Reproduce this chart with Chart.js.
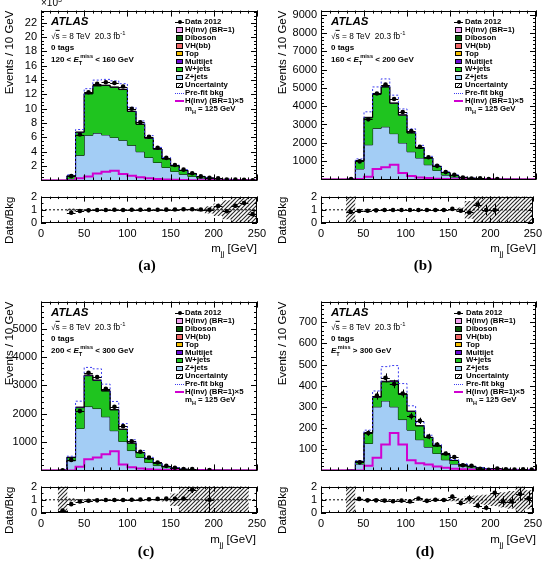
<!DOCTYPE html>
<html>
<head>
<meta charset="utf-8">
<script src="https://cdn.jsdelivr.net/npm/chart.js@4.4.1/dist/chart.umd.min.js"></script>
<style>
body { margin: 0; background: #fff; }
#wrap { position: relative; width: 546px; height: 565px; overflow: hidden; font-family: "Liberation Sans", Arial, sans-serif; color: #000; }
canvas { position: absolute; }
.t { position: absolute; white-space: nowrap; line-height: 1; }
.t sub, .t sup { font-size: 0.7em; line-height: 0; }
.sym { position: absolute; box-sizing: border-box; }
</style>
</head>
<body>
<div id="wrap"></div>
<script>
// bins of 10 GeV, 0..250
const edges = [0,10,20,30,40,50,60,70,80,90,100,110,120,130,140,150,160,170,180,190,200,210,220,230,240,250];

// (a) 120 < ETmiss < 160 GeV, values in units of 10^3
const zA   = [0,0,0,0.20,3.50,6.30,6.60,6.35,6.00,5.60,4.90,4.00,3.20,2.50,1.80,1.25,0.85,0.55,0.33,0.20,0.12,0.08,0.05,0.03,0.02];
const wA   = [0,0,0,0.42,3.20,5.77,6.58,6.89,6.99,7.08,4.72,3.82,2.70,1.86,1.20,0.78,0.55,0.37,0.20,0.14,0.10,0.06,0.04,0.03,0.02];
const mjA  = [0,0,0,0.02,0.05,0.06,0.06,0.05,0.05,0.04,0.04,0.03,0.02,0.02,0.01,0.01,0,0,0,0,0,0,0,0,0];
const topA = [0,0,0,0.02,0.08,0.12,0.14,0.14,0.14,0.13,0.11,0.09,0.07,0.05,0.04,0.03,0.02,0.02,0.01,0.01,0,0,0,0,0];
const vhA  = [0,0,0,0,0.01,0.02,0.03,0.04,0.05,0.04,0.02,0.01,0.01,0,0,0,0,0,0,0,0,0,0,0,0];
const vvA  = [0,0,0,0.08,0.12,0.15,0.17,0.19,0.21,0.19,0.13,0.09,0.06,0.04,0.03,0.02,0.02,0.01,0.01,0,0,0,0,0,0];
const hiA  = [0,0,0,0.01,0.04,0.08,0.12,0.14,0.16,0.12,0.08,0.06,0.04,0.03,0.02,0.01,0.01,0,0,0,0,0,0,0,0];
const dataA   = [null,null,null,0.59,6.40,12.3,13.5,13.7,13.6,13.1,10.0,8.1,6.1,4.55,3.15,2.15,1.5,0.99,0.56,0.35,0.28,0.125,0.12,0.09,0.027];
const prefitA = [0,0,0,0.78,7.10,12.8,14.0,14.1,13.9,13.5,10.2,8.3,6.25,4.6,3.2,2.15,1.5,0.98,0.57,0.36,0.23,0.15,0.09,0.06,0.04];
const sigA    = [0,0,0,0,0.30,0.55,0.95,1.20,1.35,0.90,0.65,0.45,0.30,0.20,0.12,0.08,0.05,0.03,0.02,0.01,0,0,0,0,0];
const bandA   = [0,0,0,0.08,0.03,0.02,0.02,0.02,0.02,0.02,0.02,0.02,0.02,0.03,0.03,0.04,0.05,0.06,0.08,0.25,0.45,0.7,0.9,0.9,0.9];
const ratioA    = [null,null,null,0.78,0.91,0.96,0.98,0.99,1.0,0.99,1.0,1.0,1.0,1.0,1.01,1.02,1.04,1.04,1.02,1.0,1.29,0.89,1.31,1.51,0.67];
const ratioErrA = [0,0,0,0.03,0.01,0.01,0.01,0.01,0.01,0.01,0.01,0.01,0.01,0.02,0.02,0.02,0.03,0.04,0.05,0.07,0.1,0.12,0.15,0.18,0.2];

// (b) 160 < ETmiss < 200 GeV
const zB   = [0,0,0,10,570,1890,2790,2870,2500,1990,1510,1170,800,490,235,130,65,35,20,12,7,5,3,2,1];
const wB   = [0,0,0,14,444,1472,1873,2172,1655,1520,1027,543,363,220,144,92,43,27,18,12,8,5,3,2,2];
const mjB  = [0,0,0,2,15,30,30,25,20,15,10,8,5,3,2,1,1,0,0,0,0,0,0,0,0];
const topB = [0,0,0,1,20,50,70,80,100,80,50,35,25,15,10,6,3,2,1,1,0,0,0,0,0];
const vhB  = [0,0,0,0,3,8,12,18,20,15,8,4,2,1,0,0,0,0,0,0,0,0,0,0,0];
const vvB  = [0,0,0,3,20,45,60,70,75,60,40,25,15,10,6,4,2,1,1,0,0,0,0,0,0];
const hiB  = [0,0,0,0,8,25,45,55,60,40,25,15,10,6,3,2,1,0,0,0,0,0,0,0,0];
const dataB   = [null,null,null,25,983,3280,4690,5180,4390,3680,2640,1780,1210,740,400,251,107,52,56,24,15,null,null,null,null];
const prefitB = [0,0,0,32,1120,3690,5050,5490,4600,3850,2760,1860,1260,770,415,245,120,68,42,26,16,10,6,4,3];
const sigB    = [0,0,0,0,20,150,570,660,800,350,180,110,70,40,25,15,8,5,3,2,1,0,0,0,0];
const bandB   = [0,0,0,1,0.03,0.02,0.02,0.02,0.02,0.02,0.02,0.02,0.02,0.03,0.03,0.04,0.15,0.65,1,1,1,1,1,1,1];
const ratioB    = [null,null,null,0.84,0.91,0.93,0.96,0.98,0.99,0.99,0.99,0.99,0.99,0.99,0.99,1.07,0.93,0.80,1.40,0.98,0.98,null,null,null,null];
const ratioErrB = [0,0,0,0.1,0.02,0.01,0.01,0.01,0.01,0.01,0.01,0.01,0.02,0.02,0.03,0.04,0.06,0.1,0.25,0.4,0.45,0,0,0,0];

// (c) 200 < ETmiss < 300 GeV
const zC   = [0,0,5,340,1480,2250,2180,1890,1400,1020,700,455,280,170,95,55,28,17,10,7,4,3,2,1,0];
const wC   = [0,0,8,115,732,1087,988,907,733,425,259,169,131,80,43,28,13,9,7,5,4,3,2,2,0];
const mjC  = [0,0,1,10,20,25,20,15,10,8,5,3,2,1,1,0,0,0,0,0,0,0,0,0,0];
const topC = [0,0,0,5,25,40,45,45,50,40,25,15,10,6,4,2,1,1,0,0,0,0,0,0,0];
const vhC  = [0,0,0,0,3,8,12,18,22,12,6,3,2,1,0,0,0,0,0,0,0,0,0,0,0];
const vvC  = [0,0,1,8,25,40,50,55,60,45,30,18,12,7,4,3,2,1,1,0,0,0,0,0,0];
const hiC  = [0,0,0,2,15,40,55,70,80,40,20,12,8,5,3,2,1,0,0,0,0,0,0,0,0];
const dataC   = [null,null,3,370,2090,3440,3290,2880,2240,1560,1030,660,450,280,160,96,48,49,null,12,null,null,null,null,null];
const prefitC = [0,0,16,500,2440,3630,3580,3040,2430,1650,1080,700,460,280,155,93,47,29,19,12,8,6,4,3,0];
const sigC    = [0,0,0,0,130,390,455,565,675,205,110,65,40,25,15,10,6,4,2,1,0,0,0,0,0];
const bandC   = [0,0,1,0.1,0.03,0.02,0.02,0.02,0.02,0.02,0.02,0.02,0.03,0.04,0.1,0.45,1,1,1,1,1,1,1,1,0];
const ratioC    = [null,null,0.18,0.67,0.87,0.93,0.96,0.98,0.98,0.98,1.0,1.02,1.04,1.07,1.09,1.07,1.09,1.76,null,1.0,null,null,null,null,null];
const ratioErrC = [0,0,0.12,0.04,0.02,0.02,0.02,0.02,0.02,0.02,0.03,0.03,0.04,0.05,0.06,0.08,0.12,0.25,0,1.2,0,0,0,0,0];

// (d) ETmiss > 300 GeV
const zD   = [0,0,0,1,30,127,300,328,300,240,190,145,110,80,50,30,18,12,8,5,4,3,3,2,2];
const wD   = [0,0,0,1,12,50,45,90,120,120,88,65,45,35,24,17,10,7,4,3,2,2,1,1,1];
const mjD  = [0,0,0,0,1,2,3,3,3,2,2,1,1,1,1,0,0,0,0,0,0,0,0,0,0];
const topD = [0,0,0,0,1,3,6,8,8,6,4,3,2,2,1,1,1,0,0,0,0,0,0,0,0];
const vhD  = [0,0,0,0,0,1,2,3,3,2,1,1,0,0,0,0,0,0,0,0,0,0,0,0,0];
const vvD  = [0,0,0,0,1,3,8,30,28,20,10,5,3,2,1,1,0,0,0,0,0,0,0,0,0];
const hiD  = [0,0,0,0,0,0,7,20,28,15,5,2,2,1,1,1,1,1,0,0,0,0,0,0,0];
const dataD    = [null,null,null,null,38,176,353,437,408,363,256,234,160,122,80,63,24,22,7,3,9,5,4,5,4];
const dataErrD = [0,0,0,0,6,13,19,21,20,19,16,15,13,11,9,8,5,5,3,2,3,2,2,2,2];
const prefitD  = [0,0,0,2,46,190,375,490,495,410,305,226,166,124,80,51,31,21,13,9,7,6,5,4,4];
const sigD     = [0,0,0,0,0,22,60,122,177,122,48,34,28,19,12,8,5,3,2,1,1,0,0,0,0];
const bandD    = [0,0,0,1,0.05,0.04,0.04,0.04,0.04,0.04,0.04,0.04,0.05,0.05,0.06,0.08,0.1,0.25,0.3,0.35,0.45,0.55,0.65,1,0.7];
const ratioD    = [null,null,null,null,1.07,0.96,0.96,0.94,0.89,0.94,0.87,1.1,0.92,1.0,0.98,1.24,0.75,1.12,0.56,0.4,1.53,0.87,0.87,1.44,1.12];
const ratioErrD = [0,0,0,0,0.15,0.07,0.05,0.05,0.05,0.05,0.06,0.07,0.08,0.09,0.11,0.15,0.15,0.25,0.2,0.2,0.4,0.4,0.45,0.55,0.5];

// axis tick labels
const yLabelsA = [2,4,6,8,10,12,14,16,18,20,22];
const yLabelsB = [1000,2000,3000,4000,5000,6000,7000,8000,9000];
const yLabelsC = [1000,2000,3000,4000,5000];
const yLabelsD = [100,200,300,400,500,600,700];
const ratioLabels = [0,1,2];
const xLabels = [0,50,100,150,200,250];

const cutLabels = [
  '120 &lt; <i>E</i><sub>T</sub><sup style="margin-left:-0.35em">miss</sup> &lt; 160 GeV',
  '160 &lt; <i>E</i><sub>T</sub><sup style="margin-left:-0.35em">miss</sup> &lt; 200 GeV',
  '200 &lt; <i>E</i><sub>T</sub><sup style="margin-left:-0.35em">miss</sup> &lt; 300 GeV',
  '<i>E</i><sub>T</sub><sup style="margin-left:-0.35em">miss</sup> &gt; 300 GeV'
];
const legendLabels = ['Data 2012', 'H(inv) (BR=1)', 'Diboson', 'VH(bb)', 'Top', 'Multijet', 'W+jets', 'Z+jets',
  'Uncertainty', 'Pre-fit bkg', 'H(inv) (BR=1)×5', 'm<sub>H</sub> = 125 GeV'];

// colours, bottom of stack first: Z+jets, W+jets, Multijet, Top, VH(bb), Diboson, H(inv)
const stackColors = ['#a3cdf5', '#1fc41f', '#6a0ad6', '#f7c000', '#f26868', '#0b5d0b', '#f5a2f0'];
const prefitColor = '#3c3cf0';
const sigColor = '#d000d0';

Chart.defaults.font.family = "'Liberation Sans', Arial, sans-serif";
Chart.defaults.color = '#000';
Chart.defaults.animation = false;
Chart.defaults.plugins.legend.display = false;
Chart.defaults.plugins.tooltip.enabled = false;

const wrap = document.getElementById('wrap');
const centers = edges.slice(0, -1).map(e => e + 5);

function makeHatch() {
  const c = document.createElement('canvas');
  c.width = 4; c.height = 4;
  const g = c.getContext('2d');
  g.strokeStyle = '#2a2a2a';
  g.lineWidth = 1.1;
  g.beginPath();
  g.moveTo(-1, 1); g.lineTo(1, -1);
  g.moveTo(0, 4); g.lineTo(4, 0);
  g.moveTo(3, 5); g.lineTo(5, 3);
  g.stroke();
  return g.createPattern(c, 'repeat');
}
const hatch = makeHatch();

function histPts(vals) {
  const pts = vals.map((v, i) => ({ x: edges[i], y: v }));
  pts.push({ x: edges[vals.length], y: vals[vals.length - 1] });
  return pts;
}

// frame with inward major/minor ticks on all four sides (ROOT style)
const framePlugin = {
  id: 'frame',
  afterDraw(chart, args, o) {
    const { ctx, chartArea: a, scales: { x, y } } = chart;
    ctx.save();
    ctx.strokeStyle = '#000';
    ctx.lineWidth = 1;
    ctx.strokeRect(Math.round(a.left) + 0.5, Math.round(a.top) + 0.5, Math.round(a.right - a.left) - 1, Math.round(a.bottom - a.top) - 1);
    ctx.beginPath();
    const ticksOf = (step, max) => { const v = []; for (let k = 0; k * step <= max + 1e-9; k++) v.push(k * step); return v; };
    [[o.xMin, o.minLen], [o.xMaj, o.majLen]].forEach(([step, len]) => {
      ticksOf(step, x.max).forEach(v => {
        const px = Math.round(x.getPixelForValue(v)) + 0.5;
        ctx.moveTo(px, a.bottom); ctx.lineTo(px, a.bottom - len);
        ctx.moveTo(px, a.top); ctx.lineTo(px, a.top + len);
      });
    });
    [[o.yMin, o.minLen], [o.yMaj, o.majLen]].forEach(([step, len]) => {
      ticksOf(step, y.max).forEach(v => {
        const py = Math.round(y.getPixelForValue(v)) + 0.5;
        ctx.moveTo(a.left, py); ctx.lineTo(a.left + len, py);
        ctx.moveTo(a.right, py); ctx.lineTo(a.right - len, py);
      });
    });
    ctx.stroke();
    ctx.restore();
  }
};

// data markers: horizontal bin-width bar plus vertical error bar
const errPlugin = {
  id: 'errbars',
  afterDatasetsDraw(chart) {
    const { ctx, chartArea: a, scales: { x, y } } = chart;
    ctx.save();
    ctx.beginPath();
    ctx.rect(a.left, a.top, a.right - a.left, a.bottom - a.top);
    ctx.clip();
    ctx.strokeStyle = '#000';
    ctx.lineWidth = 1;
    chart.data.datasets.forEach(ds => {
      if (!ds.isData) return;
      ctx.beginPath();
      ds.data.forEach((pt, i) => {
        if (pt.y === null) return;
        const py = Math.round(y.getPixelForValue(pt.y)) + 0.5;
        const px = Math.round(x.getPixelForValue(pt.x)) + 0.5;
        ctx.moveTo(x.getPixelForValue(pt.x - 5), py);
        ctx.lineTo(x.getPixelForValue(pt.x + 5), py);
        const e = ds.errY ? ds.errY[i] : 0;
        if (e) {
          ctx.moveTo(px, y.getPixelForValue(pt.y - e));
          ctx.lineTo(px, y.getPixelForValue(pt.y + e));
        }
      });
      ctx.stroke();
    });
    ctx.restore();
  }
};
Chart.register(framePlugin, errPlugin);

function makeCanvas(left, top, w, h) {
  const c = document.createElement('canvas');
  c.width = w; c.height = h;
  c.style.left = left + 'px';
  c.style.top = top + 'px';
  c.style.width = w + 'px';
  c.style.height = h + 'px';
  wrap.appendChild(c);
  return c.getContext('2d');
}

const fixedTicks = vals => s => { s.ticks = vals.map(v => ({ value: v })); };

function mainChart(p) {
  const ctx = makeCanvas(p.left, p.top, 273, p.h);
  const comps = [p.z, p.w, p.mj, p.top, p.vh, p.vv, p.hi];
  let acc = centers.map(() => 0);
  const datasets = [];
  comps.forEach((c, k) => {
    acc = acc.map((s, i) => s + c[i]);
    datasets.push({
      type: 'line', data: histPts(acc), stepped: true, borderColor: '#000', borderWidth: 1,
      backgroundColor: stackColors[k], fill: k === 0 ? 'origin' : '-1', pointRadius: 0, order: 30 - k
    });
  });
  const total = acc;
  const bandPts = centers.map((x, i) => (p.band[i] > 0 && total[i] > 0)
    ? { x, y: [total[i] * (1 - Math.min(p.band[i], 1)), total[i] * (1 + p.band[i])] } : null).filter(Boolean);
  datasets.push({
    type: 'bar', data: bandPts, backgroundColor: hatch, borderWidth: 0,
    barPercentage: 1, categoryPercentage: 1, grouped: false, order: 12
  });
  datasets.push({
    type: 'line', data: histPts(p.prefit), stepped: true, borderColor: prefitColor, borderWidth: 1,
    borderDash: [2, 2], pointRadius: 0, fill: false, order: 5
  });
  datasets.push({
    type: 'line', data: histPts(p.sig), stepped: true, borderColor: sigColor, borderWidth: 2,
    pointRadius: 0, fill: false, order: 4
  });
  datasets.push({
    type: 'line', data: centers.map((x, i) => ({ x, y: p.data[i] })), showLine: false,
    pointRadius: 2.3, pointBackgroundColor: '#000', pointBorderWidth: 0,
    isData: true, errY: p.dataErr, order: 1
  });
  new Chart(ctx, {
    type: 'line',
    data: { datasets },
    options: {
      responsive: false,
      devicePixelRatio: 1,
      layout: { padding: { top: p.padTop, right: p.padRight, bottom: p.padBottom, left: 0 } },
      scales: {
        x: { type: 'linear', display: false, min: 0, max: 250, offset: false },
        y: {
          type: 'linear', min: 0, max: p.yMax,
          afterBuildTicks: fixedTicks(p.yLabels),
          afterFit: s => { s.width = p.yW; },
          grid: { display: false, drawTicks: false }, border: { display: false },
          ticks: { autoSkip: false, padding: 4, font: { size: 11 }, callback: v => String(v) },
          title: { display: true, text: 'Events / 10 GeV', align: 'end', font: { size: 11.5 }, padding: { top: 3, bottom: 0 } }
        }
      },
      plugins: { frame: { xMaj: 50, xMin: 10, yMaj: p.yStep, yMin: p.yMinor, majLen: 6, minLen: 3 } }
    }
  });
}

function ratioChart(p) {
  const ctx = makeCanvas(p.left, p.rTop, 273, 59);
  const bandPts = centers.map((x, i) => p.band[i] > 0
    ? { x, y: [Math.max(0, 1 - p.band[i]), Math.min(2, 1 + p.band[i])] } : null).filter(Boolean);
  new Chart(ctx, {
    type: 'line',
    data: {
      datasets: [
        { type: 'bar', data: bandPts, backgroundColor: hatch, borderWidth: 0,
          barPercentage: 1, categoryPercentage: 1, grouped: false, order: 10 },
        { type: 'line', data: [{ x: 0, y: 1 }, { x: 250, y: 1 }], borderColor: '#000', borderWidth: 1,
          borderDash: [2, 2], pointRadius: 0, fill: false, order: 5 },
        { type: 'line', data: centers.map((x, i) => ({ x, y: p.ratio[i] })), showLine: false,
          pointRadius: 2.3, pointBackgroundColor: '#000', pointBorderWidth: 0,
          isData: true, errY: p.ratioErr, order: 1 }
      ]
    },
    options: {
      responsive: false,
      devicePixelRatio: 1,
      layout: { padding: { top: 7, right: p.padRight, bottom: 0, left: 0 } },
      scales: {
        x: {
          type: 'linear', min: 0, max: 250, offset: false,
          afterBuildTicks: fixedTicks(xLabels),
          afterFit: s => { s.height = 22; },
          grid: { display: false, drawTicks: false }, border: { display: false },
          ticks: { autoSkip: false, maxRotation: 0, padding: 4, font: { size: 11 }, callback: v => String(v) }
        },
        y: {
          type: 'linear', min: 0, max: 2,
          afterBuildTicks: fixedTicks(ratioLabels),
          afterFit: s => { s.width = p.yW; },
          grid: { display: false, drawTicks: false }, border: { display: false },
          ticks: { autoSkip: false, padding: 4, font: { size: 11 }, callback: v => String(v) },
          title: { display: true, text: 'Data/Bkg', align: 'end', font: { size: 11.5 }, padding: { top: 3, bottom: 0 } }
        }
      },
      plugins: { frame: { xMaj: 50, xMin: 10, yMaj: 1, yMin: 0.5, majLen: 5, minLen: 2.5 } }
    }
  });
}

function addText(html, left, top, style) {
  const d = document.createElement('div');
  d.className = 't';
  d.innerHTML = html;
  d.style.left = left + 'px';
  d.style.top = top + 'px';
  Object.assign(d.style, style || {});
  wrap.appendChild(d);
  return d;
}

function addSym(left, top, w, h, style) {
  const d = document.createElement('div');
  d.className = 'sym';
  d.style.left = left + 'px'; d.style.top = top + 'px';
  d.style.width = w + 'px'; d.style.height = h + 'px';
  Object.assign(d.style, style);
  wrap.appendChild(d);
}

function legend(symX, textX, y0, dy) {
  const boxColors = [null, stackColors[6], stackColors[5], stackColors[4], stackColors[3], stackColors[2], stackColors[1], stackColors[0]];
  legendLabels.forEach((lab, i) => {
    const y = y0 + i * dy;
    if (i === 0) {
      addSym(symX - 1, y - 0.5, 9, 1, { background: '#000' });
      addSym(symX + 1.5, y - 2, 4, 4, { background: '#000', borderRadius: '50%' });
    } else if (i <= 7) {
      addSym(symX, y - 2.7, 7, 5.5, { background: boxColors[i], border: '1px solid #000' });
    } else if (i === 8) {
      addSym(symX, y - 2.7, 7, 5.5, { background: 'repeating-linear-gradient(-45deg, #333 0 1px, #fff 1px 2.5px)', border: '1px solid #000' });
    } else if (i === 9) {
      addSym(symX - 1, y - 0.5, 9, 1, { borderTop: '1px dotted ' + prefitColor });
    } else if (i === 10) {
      addSym(symX - 1, y - 1, 9, 2, { background: sigColor });
    }
    addText(lab, textX, y, { fontSize: '7.8px', fontWeight: 'bold', transform: 'translateY(-50%)' });
  });
}

const panels = [
  { z: zA, w: wA, mj: mjA, top: topA, vh: vhA, vv: vvA, hi: hiA, data: dataA, dataErr: null, prefit: prefitA, sig: sigA,
    band: bandA, ratio: ratioA, ratioErr: ratioErrA, yMax: 23.7, yLabels: yLabelsA, yStep: 2, yMinor: 0.5,
    left: 0, top: 0, h: 191, padTop: 9, padBottom: 1, padRight: 16, yW: 41, rTop: 186,
    frameTop: 9, frameLeft: 41, frameRight: 257, symX: 176, textX: 185, xlabY: 249, tagX: 147, tagY: 265, tag: '(a)' },
  { z: zB, w: wB, mj: mjB, top: topB, vh: vhB, vv: vvB, hi: hiB, data: dataB, dataErr: null, prefit: prefitB, sig: sigB,
    band: bandB, ratio: ratioB, ratioErr: ratioErrB, yMax: 9220, yLabels: yLabelsB, yStep: 1000, yMinor: 200,
    left: 273, top: 0, h: 190, padTop: 9, padBottom: 0, padRight: 10, yW: 48, rTop: 186,
    frameTop: 9, frameLeft: 321, frameRight: 536, symX: 455, textX: 465, xlabY: 249, tagX: 423, tagY: 265, tag: '(b)' },
  { z: zC, w: wC, mj: mjC, top: topC, vh: vhC, vv: vvC, hi: hiC, data: dataC, dataErr: null, prefit: prefitC, sig: sigC,
    band: bandC, ratio: ratioC, ratioErr: ratioErrC, yMax: 5950, yLabels: yLabelsC, yStep: 1000, yMinor: 200,
    left: 0, top: 291, h: 190, padTop: 9, padBottom: 0, padRight: 16, yW: 41, rTop: 476,
    frameTop: 300, frameLeft: 41, frameRight: 256, symX: 176, textX: 185, xlabY: 540, tagX: 146, tagY: 551, tag: '(c)' },
  { z: zD, w: wD, mj: mjD, top: topD, vh: vhD, vv: vvD, hi: hiD, data: dataD, dataErr: dataErrD, prefit: prefitD, sig: sigD,
    band: bandD, ratio: ratioD, ratioErr: ratioErrD, yMax: 797, yLabels: yLabelsD, yStep: 100, yMinor: 20,
    left: 273, top: 291, h: 190, padTop: 9, padBottom: 0, padRight: 10, yW: 48, rTop: 476,
    frameTop: 300, frameLeft: 321, frameRight: 536, symX: 455, textX: 466, xlabY: 540, tagX: 425, tagY: 551, tag: '(d)' }
];

panels.forEach((p, k) => {
  mainChart(p);
  ratioChart(p);
  const x0 = p.frameLeft + 10;
  addText('ATLAS', x0, p.frameTop + 13, { fontSize: '11.5px', fontWeight: 'bold', fontStyle: 'italic', transform: 'translateY(-50%)' });
  addText('√<span style="text-decoration:overline">s</span> = 8 TeV &nbsp;20.3 fb<sup>-1</sup>', x0, p.frameTop + 27, { fontSize: '8.3px', transform: 'translateY(-50%)' });
  addText('0 tags', x0, p.frameTop + 39, { fontSize: '8px', fontWeight: 'bold', transform: 'translateY(-50%)' });
  addText(cutLabels[k], x0, p.frameTop + 51, { fontSize: '8px', fontWeight: 'bold', transform: 'translateY(-50%)' });
  legend(p.symX, p.textX, p.frameTop + 13, 7.9);
  addText('m<sub>jj</sub> [GeV]', p.frameRight, p.xlabY, { fontSize: '11.5px', transform: 'translate(-100%,-50%)' });
  addText(p.tag, p.tagX, p.tagY, { fontSize: '15px', fontWeight: 'bold', fontFamily: '"Liberation Serif", "Times New Roman", serif', transform: 'translate(-50%,-50%)' });
});
addText('×10<sup>3</sup>', 41, 3, { fontSize: '10px', transform: 'translateY(-50%)' });
</script>
</body>
</html>
